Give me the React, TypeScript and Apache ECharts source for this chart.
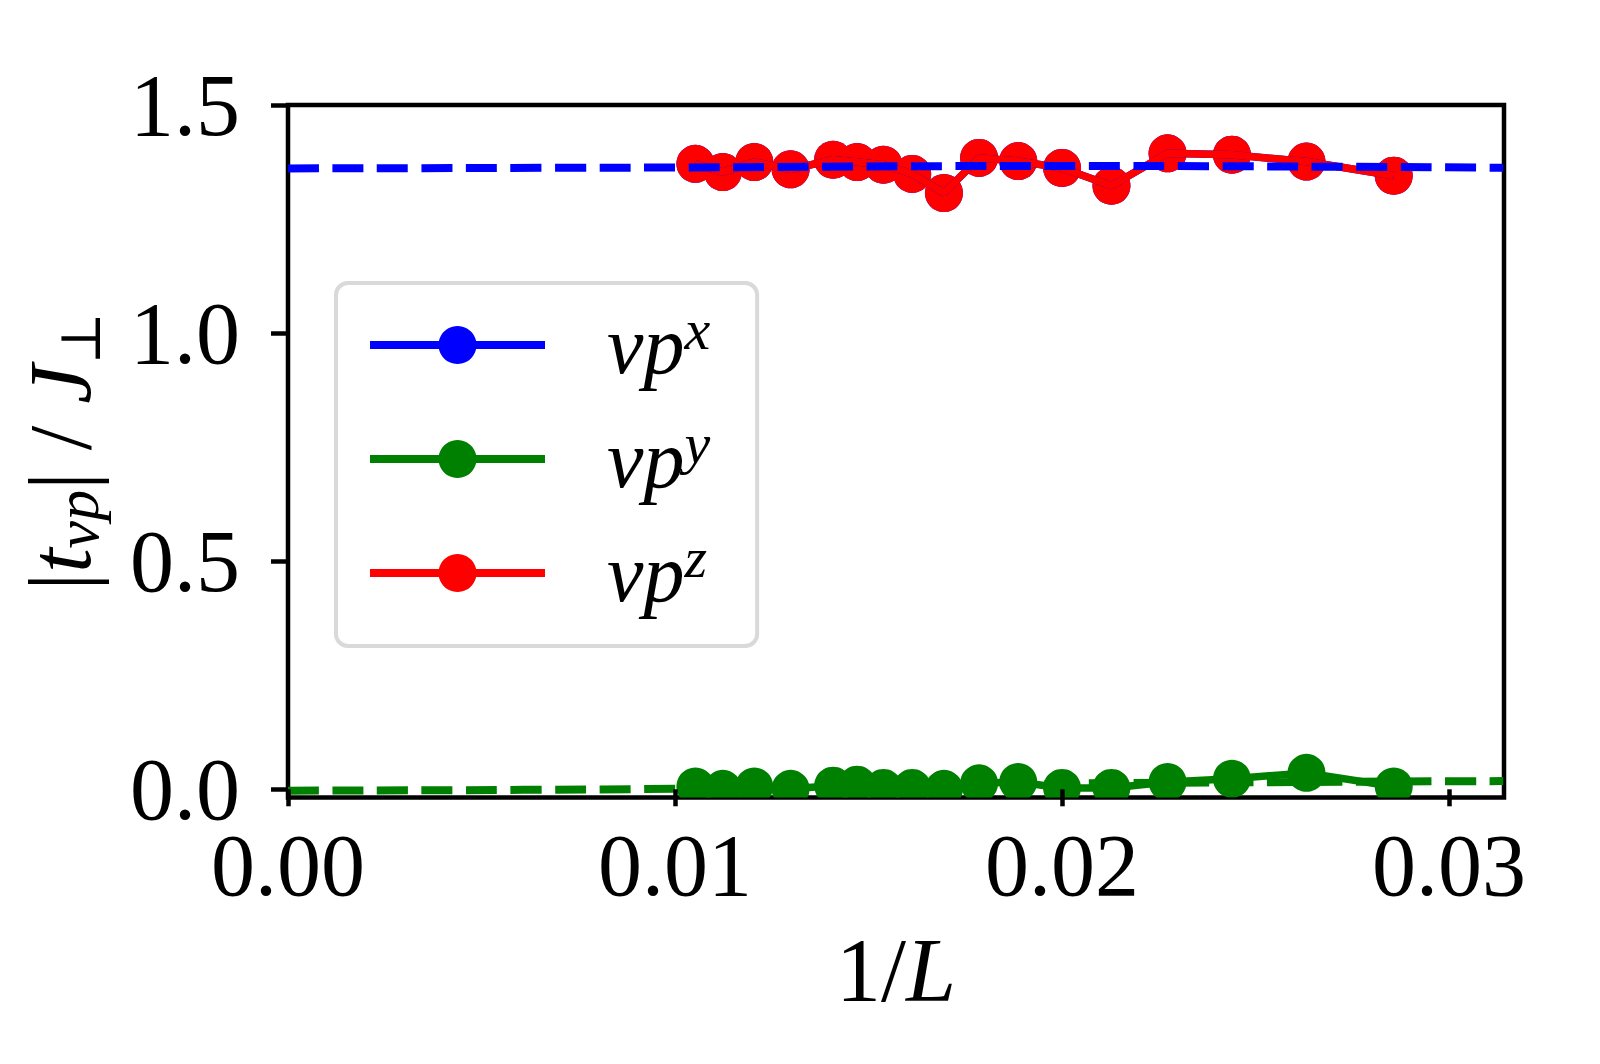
import React, { useEffect, useRef } from "react";
import * as echarts from "echarts";

// 1/L values (L = 95, 89, 83, 77, 71, 68, 65, 62, 59, 56, 53, 50, 47, 44, 41, 38, 35)
const invL = [
  0.010526, 0.011236, 0.012048, 0.012987, 0.014085, 0.014706, 0.015385,
  0.016129, 0.016949, 0.017857, 0.018868, 0.02, 0.021277, 0.022727,
  0.02439, 0.026316, 0.028571,
];
const vpx = [
  1.371, 1.353, 1.375, 1.359, 1.380, 1.375, 1.369, 1.349, 1.307, 1.384,
  1.377, 1.362, 1.323, 1.394, 1.391, 1.376, 1.345,
];
const vpy = [
  0.006, 0.001, 0.006, 0.001, 0.008, 0.010, 0.003, 0.003, 0.001, 0.013,
  0.016, 0.003, 0.003, 0.016, 0.023, 0.036, 0.006,
];
const vpz = [
  1.371, 1.353, 1.375, 1.359, 1.380, 1.375, 1.369, 1.349, 1.307, 1.384,
  1.377, 1.362, 1.323, 1.394, 1.391, 1.376, 1.345,
];
// fitted extrapolation curves (dashed)
const fitXx = [0, 0.01, 0.02, 0.0314];
const fitXy = [1.361, 1.363, 1.3665, 1.3625];
const fitYx = [0, 0.009, 0.0188, 0.0215, 0.0286, 0.0314];
const fitYy = [-0.003, 0.0004, 0.011, 0.0136, 0.017, 0.018];

const xTicks = [0, 0.01, 0.02, 0.03];
const yTicks = [0, 0.5, 1.0, 1.5];
const seriesNames = ["vpx", "vpy", "vpz"];
const supers: Record<string, string> = { vpx: "x", vpy: "y", vpz: "z" };

const BLUE = "#0000ff";
const GREEN = "#008000";
const RED = "#ff0000";
const SERIF = "'Liberation Serif', 'DejaVu Serif', serif";

const zip = (a: number[], b: number[]) => a.map((v, i) => [v, b[i]]);

export default function App() {
  const ref = useRef<HTMLDivElement>(null);
  useEffect(() => {
    if (!ref.current) return;
    const chart = echarts.init(ref.current, null, { renderer: "svg" });
    const gridLeft = 288;
    const gridTop = 105;
    const gridW = 1216;
    const gridH = 692.5;
    const lineW = 7.5;
    const radius = 19;
    const mkLine = (name: string, color: string, ys: number[]) => ({
      name,
      type: "line",
      data: zip(invL, ys),
      symbol: "none",
      lineStyle: { color, width: lineW },
      itemStyle: { color },
      z: 2,
    });
    const mkDots = (name: string, color: string, ys: number[]) => ({
      name,
      type: "custom",
      data: zip(invL, ys),
      encode: { x: 0, y: 1 },
      clip: true,
      z: 2,
      renderItem: (_p: any, api: any) => {
        const pt = api.coord([api.value(0), api.value(1)]);
        return {
          type: "circle",
          shape: { cx: pt[0], cy: pt[1], r: radius },
          style: { fill: color },
        };
      },
    });
    const mkFit = (name: string, color: string, xs: number[], ys: number[]) => ({
      name,
      type: "line",
      data: zip(xs, ys),
      symbol: "none",
      smooth: 0.4,
      lineStyle: { color, width: 8, type: [31, 13.5] },
      z: 2,
    });
    chart.setOption({
      animation: false,
      backgroundColor: "#ffffff",
      textStyle: { fontFamily: SERIF, color: "#000" },
      grid: {
        left: gridLeft,
        top: gridTop,
        width: gridW,
        height: gridH,
        show: true,
        borderColor: "#000",
        borderWidth: 4.5,
        backgroundColor: "transparent",
      },
      legend: {
        data: seriesNames,
        orient: "vertical",
        left: 336,
        top: 283,
        padding: [17, 47, 32, 30],
        itemWidth: 175,
        itemHeight: 47.5,
        itemGap: 28,
        selectedMode: false,
        backgroundColor: "#ffffff",
        borderColor: "#d9d9d9",
        borderWidth: 4,
        borderRadius: 12,
        lineStyle: { width: 8 },
        formatter: (n: string) => `{v|vp}{s|${supers[n]}}`,
        textStyle: {
          rich: {
            v: {
              fontFamily: SERIF,
              fontStyle: "italic",
              fontSize: 82,
              lineHeight: 90,
              padding: [0, 0, 0, 57],
              color: "#000",
            },
            s: {
              fontFamily: SERIF,
              fontStyle: "italic",
              fontSize: 58,
              lineHeight: 56,
              verticalAlign: "top",
              color: "#000",
            },
          },
        },
        z: 6,
      },
      xAxis: {
        type: "value",
        min: 0,
        max: 0.03142,
        z: 10,
        axisLine: { show: false },
        splitLine: { show: false },
        axisTick: {
          show: true,
          length: 17,
          lineStyle: { color: "#000", width: 4.5 },
          customValues: xTicks,
        },
        axisLabel: {
          customValues: xTicks,
          formatter: (v: number) => v.toFixed(2),
          fontSize: 88,
          fontFamily: SERIF,
          color: "#000",
          margin: 24,
        },
        name: "{n|1/}{i|L}",
        nameLocation: "middle",
        nameGap: 128,
        nameTextStyle: {
          rich: {
            n: { fontFamily: SERIF, fontSize: 90, color: "#000" },
            i: { fontFamily: SERIF, fontSize: 90, fontStyle: "italic", color: "#000" },
          },
        },
      },
      yAxis: {
        type: "value",
        min: -0.018,
        max: 1.5,
        z: 10,
        axisLine: { show: false },
        splitLine: { show: false },
        axisTick: {
          show: true,
          length: 17,
          lineStyle: { color: "#000", width: 4.5 },
          customValues: yTicks,
        },
        axisLabel: {
          customValues: yTicks,
          formatter: (v: number) => v.toFixed(1),
          fontSize: 88,
          fontFamily: SERIF,
          color: "#000",
          margin: 48,
        },
        name: "{n||}{i|t}{sub|vp}{n|| / }{i|J}{subu|\u22a5}",
        nameLocation: "middle",
        nameRotate: 90,
        nameGap: 180,
        nameTextStyle: {
          rich: {
            n: { fontFamily: SERIF, fontSize: 88, lineHeight: 96, color: "#000" },
            i: { fontFamily: SERIF, fontSize: 88, lineHeight: 96, fontStyle: "italic", color: "#000" },
            sub: {
              fontFamily: SERIF,
              fontSize: 62,
              lineHeight: 42,
              fontStyle: "italic",
              verticalAlign: "bottom",
              color: "#000",
            },
            subu: {
              fontFamily: "'DejaVu Serif', serif",
              fontSize: 56,
              lineHeight: 42,
              verticalAlign: "bottom",
              color: "#000",
            },
          },
        },
      },
      series: [
        mkLine("vpx", BLUE, vpx),
        mkDots("vpx points", BLUE, vpx),
        mkLine("vpy", GREEN, vpy),
        mkDots("vpy points", GREEN, vpy),
        mkLine("vpz", RED, vpz),
        mkDots("vpz points", RED, vpz),
        mkFit("fitx", BLUE, fitXx, fitXy),
        mkFit("fity", GREEN, fitYx, fitYy),
      ],
    });
    return () => chart.dispose();
  }, []);
  return (
    <div
      ref={ref}
      style={{ position: "fixed", left: 0, top: 0, width: 1600, height: 1064 }}
    />
  );
}
